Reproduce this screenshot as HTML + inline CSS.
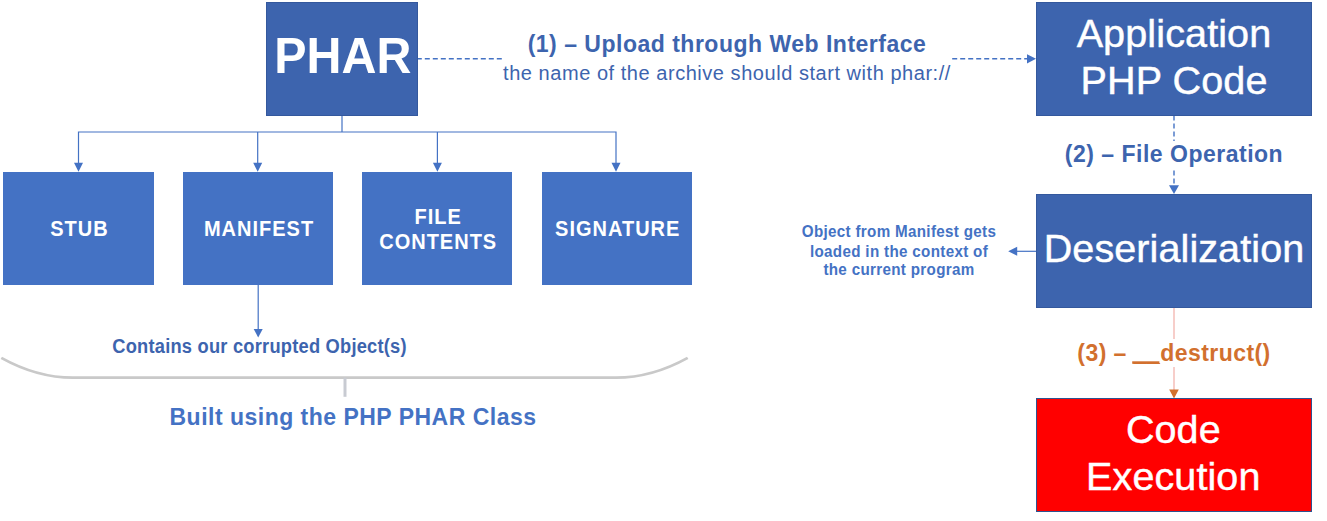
<!DOCTYPE html>
<html><head><meta charset="utf-8">
<style>
html,body{margin:0;padding:0;background:#fff;}
body{width:1327px;height:521px;position:relative;overflow:hidden;font-family:"Liberation Sans",sans-serif;}
.b{position:absolute;box-sizing:border-box;color:#fff;display:flex;align-items:center;justify-content:center;text-align:center;}
.d{background:#3D64AE;border:1px solid #34589D;}
.l{background:#4472C4;font-weight:bold;font-size:20px;line-height:24.2px;letter-spacing:1px;padding:0.7px 0 0 2px;}
.l span{display:inline-block;transform:scaleY(1.07);}
.g{font-size:40px;line-height:47.8px;-webkit-text-stroke:0.45px #fff;}
.t{position:absolute;white-space:nowrap;text-align:center;}
svg{position:absolute;left:0;top:0;}
</style></head><body>
<svg width="1327" height="521" viewBox="0 0 1327 521">
  <g stroke="#4472C4" stroke-width="1.2" fill="none">
    <path d="M342 116V132M78.5 164V132H616V164M257.7 132V164M437.4 132V164"/>
    <path d="M258.2 285V330"/>
    <path d="M416.8 58.8H502" stroke-dasharray="5 3" stroke-width="1.5"/>
    <path d="M952.2 58.8H1028" stroke-dasharray="5 3" stroke-width="1.5"/>
    <path d="M1174 115.5V141M1174 170.5V186" stroke-dasharray="5 3" stroke-width="1.4"/>
    <path d="M1036 251.3H1016"/>
  </g>
  <g fill="#4472C4">
    <path d="M74 162.8h9l-4.5 9z M253.2 162.8h9l-4.5 9z M432.9 162.8h9l-4.5 9z M611.5 162.8h9l-4.5 9z"/>
    <path d="M253.7 328.9h9l-4.5 8.7z"/>
    <path d="M1027 54.2v9.2l9-4.6z"/>
    <path d="M1169 185.3h10l-5 8.8z"/>
    <path d="M1017.2 246.8v9l-9-4.5z"/>
  </g>
  <path d="M1174 308V339M1174 367V391" stroke="#F3B4AE" stroke-width="1.3"/>
  <path d="M1169.2 389.6h9.6l-4.8 8.9z" fill="#D2702E"/>
  <rect x="1132.2" y="361.3" width="27.2" height="2.5" fill="#D2702E"/>
  <path d="M1.3 357.9Q37 377.7 73 377.7H616Q652 377.7 687.7 357.9" stroke="#C9C9C9" stroke-width="2.8" fill="none"/>
  <path d="M345 377.7V396.8" stroke="#C8CBD2" stroke-width="3" fill="none"/>
</svg>

<div class="b d" style="left:266px;top:2px;width:152px;height:114px;font-weight:bold;font-size:48.4px;padding:0 0 8.6px 1.6px;"><span style="display:inline-block;transform:scaleY(1.045);">PHAR</span></div>
<div class="b l" style="left:3px;top:172px;width:151px;height:113px;"><span>STUB</span></div>
<div class="b l" style="left:183px;top:172px;width:150px;height:113px;"><span>MANIFEST</span></div>
<div class="b l" style="left:362px;top:172px;width:150.4px;height:113px;"><span>FILE<br>CONTENTS</span></div>
<div class="b l" style="left:541.5px;top:172px;width:150.5px;height:113px;"><span>SIGNATURE</span></div>

<div class="b d g" style="left:1036px;top:2px;width:276px;height:113.5px;padding-bottom:3.2px;font-size:39.6px;line-height:47.6px;letter-spacing:0.1px;">Application<br>PHP Code</div>
<div class="b d g" style="left:1036px;top:194px;width:276px;height:114px;padding-bottom:4.4px;font-size:39.5px;letter-spacing:0.1px;">Deserialization</div>
<div class="b g" style="left:1036px;top:398px;width:276px;height:114px;background:#FF0000;border:1px solid #2F528F;padding:0 1.4px 3.8px 0;font-size:39.5px;line-height:47.6px;letter-spacing:0.1px;">Code<br>Execution</div>

<div class="t" style="left:527px;top:31.2px;width:400px;font-weight:bold;font-size:23px;letter-spacing:0.5px;color:#3D64AE;">(1) – Upload through Web Interface</div>
<div class="t" style="left:498px;top:62.3px;width:458px;font-size:20px;letter-spacing:0.54px;color:#3D64AE;">the name of the archive should start with phar://</div>
<div class="t" style="left:1036px;top:141.2px;width:276px;font-weight:bold;font-size:23px;letter-spacing:0.5px;color:#3D64AE;">(2) – File Operation</div>
<div class="t" style="left:1036px;top:339.9px;width:276px;font-weight:bold;font-size:23px;letter-spacing:0.45px;color:#D2702E;">(3) – __destruct()</div>
<div class="t" style="left:790px;top:223.9px;width:218px;font-weight:bold;font-size:15.2px;letter-spacing:0.32px;line-height:17.5px;transform:scaleY(1.1);color:#4472C4;white-space:normal;">Object from Manifest gets<br>loaded in the context of<br>the current program</div>
<div class="t" style="left:112.3px;top:335.8px;font-weight:bold;font-size:18.3px;letter-spacing:0.22px;transform:scaleY(1.1);transform-origin:0 16.9px;color:#3D64AE;">Contains our corrupted Object(s)</div>
<div class="t" style="left:169.5px;top:404.2px;font-weight:bold;font-size:23px;letter-spacing:0.49px;color:#4472C4;">Built using the PHP PHAR Class</div>
</body></html>
